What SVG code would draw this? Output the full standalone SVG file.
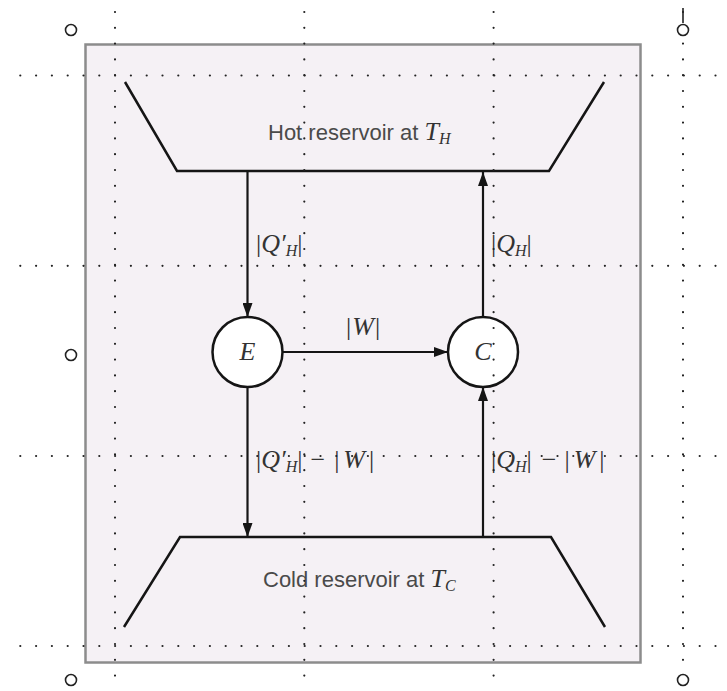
<svg xmlns="http://www.w3.org/2000/svg" width="727" height="691" viewBox="0 0 727 691">
<style>
.res{fill:none;stroke:#151515;stroke-width:2.5;stroke-linejoin:miter}
.node{fill:#fff;stroke:#151515;stroke-width:2.5}
.conn{stroke:#151515;stroke-width:2.2;fill:none}
.lab{font-family:"Liberation Sans",Arial,sans-serif;font-size:22px;fill:#4a4a4a}
.math{font-family:"Liberation Serif","Times New Roman",serif;font-size:26px;fill:#333}
.it{font-style:italic}
.sub{font-style:italic;font-size:16px}
.grid{stroke:#222;stroke-width:2.2;stroke-linecap:round;stroke-dasharray:0 15.8;fill:none}
.handle{fill:#fff;stroke:#222;stroke-width:1.6}
</style>
<defs>
<marker id="arr" viewBox="0 0 14 10" refX="14" refY="5" markerWidth="14" markerHeight="10" markerUnits="userSpaceOnUse" orient="auto">
<path d="M0,0 L14,5 L0,10 z" fill="#151515"/>
</marker>
</defs>
<rect width="727" height="691" fill="#fff"/>
<g id="frame">
<rect x="85.5" y="44.5" width="555" height="618" fill="#f5f1f5" stroke="#8c8c8c" stroke-width="2.5"/>
</g>
<g id="hot">
<path class="res" d="M125,82 L177,171 L549,171 L604,82"/>
<text class="lab" x="268" y="140">Hot reservoir at <tspan class="math it" font-size="25">T</tspan><tspan class="math sub" font-size="15" dy="4">H</tspan></text>
</g>
<g id="cold">
<path class="res" d="M124,627 L180,537 L551,537 L605,627"/>
<text class="lab" x="263" y="587">Cold reservoir at <tspan class="math it" font-size="25">T</tspan><tspan class="math sub" font-size="15" dy="4">C</tspan></text>
</g>
<g id="engine">
<circle class="node" cx="247.5" cy="352" r="35"/>
<text class="math it" x="247.5" y="360" text-anchor="middle" font-size="24">E</text>
</g>
<g id="carnot">
<circle class="node" cx="483" cy="352" r="35"/>
<text class="math it" x="483" y="360" text-anchor="middle" font-size="24">C</text>
</g>
<g id="connectors">
<line class="conn" x1="247.5" y1="171" x2="247.5" y2="317" marker-end="url(#arr)"/>
<line class="conn" x1="282.5" y1="352" x2="448" y2="352" marker-end="url(#arr)"/>
<line class="conn" x1="483" y1="317" x2="483" y2="172" marker-end="url(#arr)"/>
<line class="conn" x1="247.5" y1="387" x2="247.5" y2="537" marker-end="url(#arr)"/>
<line class="conn" x1="483" y1="537" x2="483" y2="387" marker-end="url(#arr)"/>
</g>
<g id="labels">
<text class="math" x="256" y="252">|<tspan class="it">Q′</tspan><tspan class="sub" dy="4">H</tspan><tspan dy="-4">|</tspan></text>
<text class="math" x="491" y="252">|<tspan class="it">Q</tspan><tspan class="sub" dy="4">H</tspan><tspan dy="-4">|</tspan></text>
<text class="math" x="346" y="335">|<tspan class="it" dx="1">W</tspan><tspan dx="1">|</tspan></text>
<text class="math" x="256" y="468">|<tspan class="it">Q′</tspan><tspan class="sub" dy="4">H</tspan><tspan dy="-4">|</tspan><tspan dx="8">−</tspan><tspan dx="9">|</tspan><tspan class="it" dx="4">W</tspan><tspan dx="4">|</tspan></text>
<text class="math" x="491" y="468">|<tspan class="it">Q</tspan><tspan class="sub" dy="4">H</tspan><tspan dy="-4">|</tspan><tspan dx="10">−</tspan><tspan dx="8">|</tspan><tspan class="it" dx="4">W</tspan><tspan dx="4">|</tspan></text>
</g>
<g id="grid">
<path class="grid" d="M115,12 V691 M304.3,12 V691 M493.6,12 V691 M683,12 V691"/>
<path class="grid" d="M20.3,75.5 H727 M20.3,265.8 H727 M20.3,456 H727 M20.3,646 H727"/>
</g>
<g id="handles">
<line x1="683" y1="8" x2="683" y2="23" stroke="#222" stroke-width="1.6"/>
<circle class="handle" cx="71" cy="30" r="5.5"/>
<circle class="handle" cx="683" cy="30" r="5.5"/>
<circle class="handle" cx="71" cy="355" r="5.5"/>
<circle class="handle" cx="71" cy="680" r="5.5"/>
<circle class="handle" cx="683" cy="680" r="5.5"/>
</g>
</svg>
